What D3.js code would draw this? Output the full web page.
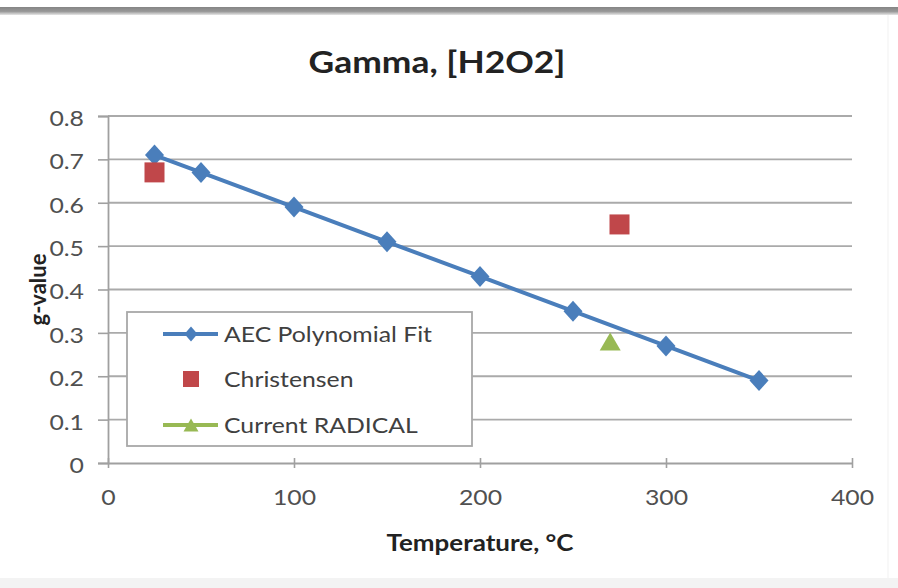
<!DOCTYPE html>
<html>
<head>
<meta charset="utf-8">
<script src="https://cdn.jsdelivr.net/npm/d3@7"></script>
<style>
  html, body { margin: 0; padding: 0; background: #fff; }
  svg { display: block; }
  text { font-family: Lato, "Open Sans", sans-serif; }
</style>
</head>
<body>
<svg id="chart" width="898" height="588"></svg>
<script>
// g-value of H2O2 under gamma radiolysis versus temperature
const aecTemps = [25, 50, 100, 150, 200, 250, 300, 350];
const aecValues = [0.71, 0.67, 0.59, 0.51, 0.43, 0.35, 0.27, 0.19];
const christensenTemps = [25, 275];
const christensenValues = [0.67, 0.55];
const radicalTemps = [270];
const radicalValues = [0.28];
const xTicks = [0, 100, 200, 300, 400];
const yTicks = [0, 0.1, 0.2, 0.3, 0.4, 0.5, 0.6, 0.7, 0.8];
const seriesNames = ["AEC Polynomial Fit", "Christensen", "Current RADICAL"];

const W = 898, H = 588;
const margin = { left: 108, right: 46, top: 116, bottom: 125 };
const svg = d3.select("#chart");

const blue = "#4a7ebb", red = "#c0474a", green = "#98b954";
const grid = "#aaaaaa", axisCol = "#a0a0a0", tickText = "#505050";
const wide = 1.18; // horizontal widening applied to the labels

// frame bands at the top and bottom edges
const defs = svg.append("defs");
const topGrad = defs.append("linearGradient").attr("id", "topBand")
  .attr("x1", 0).attr("y1", 0).attr("x2", 0).attr("y2", 1);
topGrad.append("stop").attr("offset", "0%").attr("stop-color", "#858585");
topGrad.append("stop").attr("offset", "55%").attr("stop-color", "#989898");
topGrad.append("stop").attr("offset", "100%").attr("stop-color", "#e6e6e6");
svg.append("rect").attr("x", 0).attr("y", 7).attr("width", W).attr("height", 8)
  .attr("fill", "url(#topBand)");
svg.append("rect").attr("x", 0).attr("y", 578).attr("width", W).attr("height", 10)
  .attr("fill", "#f3f3f3");
svg.append("rect").attr("x", 887).attr("y", 15).attr("width", 2).attr("height", 563)
  .attr("fill", "#f8f8f8");

const x = d3.scaleLinear().domain([0, 400]).range([margin.left, W - margin.right]);
const y = d3.scaleLinear().domain([0, 0.8]).range([H - margin.bottom, margin.top]);

// horizontal gridlines
svg.append("g").selectAll("line")
  .data(yTicks.filter(d => d > 0))
  .join("line")
  .attr("x1", x(0)).attr("x2", x(400))
  .attr("y1", d => y(d)).attr("y2", d => y(d))
  .attr("stroke", grid).attr("stroke-width", 1.8);

// y axis
const yAxis = svg.append("g")
  .attr("transform", `translate(${x(0)},0)`)
  .call(d3.axisLeft(y).tickValues(yTicks).tickSize(10).tickPadding(14)
    .tickFormat(d => d === 0 ? "0" : d3.format(".1f")(d)));
yAxis.select(".domain").attr("stroke", axisCol).attr("stroke-width", 1.8);
yAxis.selectAll(".tick line").attr("stroke", axisCol).attr("stroke-width", 1.6);
yAxis.selectAll(".tick text").attr("fill", tickText).attr("dy", "0.45em")
  .style("font-size", "21px").style("font-family", "Lato, sans-serif");

// x axis
const xAxis = svg.append("g")
  .attr("transform", `translate(0,${y(0)})`)
  .call(d3.axisBottom(x).tickValues(xTicks).tickSizeInner(5).tickSizeOuter(0).tickPadding(22));
xAxis.select(".domain").attr("stroke", axisCol).attr("stroke-width", 1.8);
xAxis.selectAll(".tick line").attr("stroke", axisCol).attr("stroke-width", 1.6)
  .attr("y1", -5).attr("y2", 5);
xAxis.selectAll(".tick text").attr("fill", tickText)
  .style("font-size", "21px").style("font-family", "Lato, sans-serif");

// AEC polynomial fit line with diamond markers
const aec = aecTemps.map((t, i) => ({ t, v: aecValues[i] }));
svg.append("path").datum(aec)
  .attr("d", d3.line().x(d => x(d.t)).y(d => y(d.v)))
  .attr("fill", "none").attr("stroke", blue).attr("stroke-width", 4)
  .attr("stroke-linejoin", "round");
const diamondPath = (w, h) => `M0,${-h / 2}L${w / 2},0L0,${h / 2}L${-w / 2},0Z`;
svg.append("g").selectAll("path").data(aec).join("path")
  .attr("d", diamondPath(19, 21))
  .attr("transform", d => `translate(${x(d.t)},${y(d.v)})`)
  .attr("fill", blue);

// Christensen squares
const chr = christensenTemps.map((t, i) => ({ t, v: christensenValues[i] }));
svg.append("g").selectAll("rect").data(chr).join("rect")
  .attr("x", d => x(d.t) - 10).attr("y", d => y(d.v) - 10)
  .attr("width", 20).attr("height", 20)
  .attr("fill", red);

// Current RADICAL triangle
const rad = radicalTemps.map((t, i) => ({ t, v: radicalValues[i] }));
const triPath = (w, h) => `M0,${-h / 2}L${w / 2},${h / 2}L${-w / 2},${h / 2}Z`;
svg.append("g").selectAll("path").data(rad).join("path")
  .attr("d", triPath(21, 18))
  .attr("transform", d => `translate(${x(d.t)},${y(d.v)})`)
  .attr("fill", green);

// title and axis titles
svg.append("text").attr("class", "wide").attr("x", 437).attr("y", 73)
  .attr("text-anchor", "middle").attr("fill", "#222")
  .style("font-size", "30px").style("font-weight", "bold")
  .text("Gamma, [H2O2]");
svg.append("text").attr("class", "wide").attr("x", (x(0) + x(400)) / 2).attr("y", 551)
  .attr("text-anchor", "middle").attr("fill", "#222")
  .style("font-size", "22px").style("font-weight", "bold")
  .text("Temperature, °C");
svg.append("text")
  .attr("transform", `translate(46,${(y(0) + y(0.8)) / 2}) rotate(-90)`)
  .attr("text-anchor", "middle").attr("fill", "#222")
  .style("font-size", "22px").style("font-weight", "bold")
  .text("g-value");

// legend
const lg = svg.append("g");
lg.append("rect").attr("x", 127).attr("y", 312).attr("width", 345).attr("height", 134)
  .attr("fill", "#fff").attr("stroke", "#a8a8a8").attr("stroke-width", 1.8);
const rowsY = [334, 379, 425];
const sx0 = 163, sx1 = 218, smid = 191;
// row 1
lg.append("line").attr("x1", sx0).attr("x2", sx1).attr("y1", rowsY[0]).attr("y2", rowsY[0])
  .attr("stroke", blue).attr("stroke-width", 4);
lg.append("path").attr("d", diamondPath(13, 15))
  .attr("transform", `translate(${smid},${rowsY[0]})`).attr("fill", blue);
// row 2
lg.append("rect").attr("x", smid - 8).attr("y", rowsY[1] - 8).attr("width", 16).attr("height", 16)
  .attr("fill", red);
// row 3
lg.append("line").attr("x1", sx0).attr("x2", sx1).attr("y1", rowsY[2]).attr("y2", rowsY[2])
  .attr("stroke", green).attr("stroke-width", 4);
lg.append("path").attr("d", triPath(15, 13))
  .attr("transform", `translate(${smid},${rowsY[2]})`).attr("fill", green);
lg.selectAll("text.lbl").data(seriesNames).join("text").attr("class", "lbl wide")
  .attr("x", 224).attr("y", (d, i) => rowsY[i] + 8)
  .attr("fill", "#404040").style("font-size", "21px")
  .text(d => d);

// widen horizontal labels to the chart's letter proportions
svg.selectAll("text.wide, .tick text").each(function () {
  const len = this.getComputedTextLength();
  d3.select(this).attr("textLength", (len * wide).toFixed(1))
    .attr("lengthAdjust", "spacingAndGlyphs");
});
</script>
</body>
</html>
